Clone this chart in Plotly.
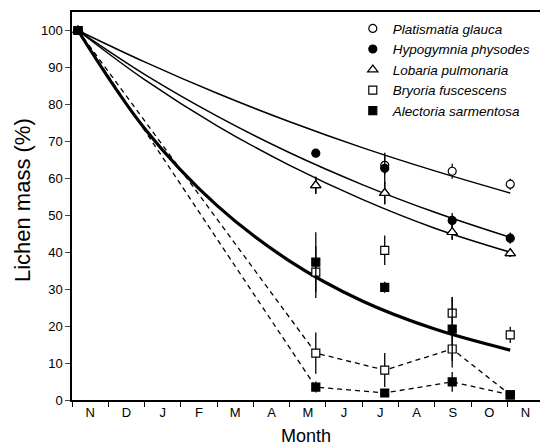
import plotly.graph_objects as go

# month axis: 0 = start of November, one unit per month
months = ["N", "D", "J", "F", "M", "A", "M", "J", "J", "A", "S", "O", "N"]

# sampling dates (fraction of months since 1 Nov)
x_start = 0.165
x_may = 6.72
x_jul = 8.62
x_sep = 10.48
x_oct = 12.08

# fitted decay curves
curve_x = [0.165, 2, 4, 6, 8, 10, 12.08]
fit_platismatia = [100, 91.5, 83.0, 75.3, 68.3, 62.0, 56.0]
fit_hypogymnia = [100, 88.1, 76.8, 66.9, 58.3, 50.8, 44.0]
fit_lobaria = [100, 86.7, 74.2, 63.5, 54.3, 46.5, 40.0]
fit_hair = [100, 73.5, 52.6, 37.6, 26.8, 19.2, 13.5]

# measured means and errors
plat_x = [x_start, x_jul, x_sep, x_oct]
plat_y = [100, 63.5, 61.9, 58.4]
plat_e = [0, 2.5, 2.0, 1.5]

hypo_x = [x_start, x_may, x_jul, x_sep, x_oct]
hypo_y = [100, 66.8, 62.7, 48.6, 43.8]
hypo_e = [0, 1.0, 4.2, 2.0, 1.5]

loba_x = [x_start, x_may, x_jul, x_sep, x_oct]
loba_y = [100, 58.1, 56.0, 45.4, 39.7]
loba_e = [0, 2.3, 3.0, 2.0, 1.0]

# hair lichens, first set (follows thick curve)
bryo1_x = [x_may, x_jul, x_sep, x_oct]
bryo1_y = [34.6, 40.5, 23.5, 17.6]
bryo1_e = [7.0, 4.0, 4.4, 2.2]

alec1_x = [x_may, x_jul, x_sep]
alec1_y = [37.3, 30.5, 19.2]
alec1_e = [8.1, 1.5, 8.6]

# hair lichens, second set (dashed)
bryo2_x = [x_start, x_may, x_jul, x_sep, x_oct]
bryo2_y = [100, 12.7, 8.1, 13.8, 1.4]
bryo2_e = [0, 5.6, 4.6, 5.0, 0.5]

alec2_x = [x_start, x_may, x_jul, x_sep, x_oct]
alec2_y = [100, 3.5, 1.9, 4.9, 1.4]
alec2_e = [0, 1.5, 0.5, 2.7, 0.5]

FONT = "Liberation Sans, Arial, sans-serif"

fig = go.Figure()

# fitted curves
for ys, w in [(fit_platismatia, 1.5), (fit_hypogymnia, 1.5), (fit_lobaria, 1.5), (fit_hair, 3.2)]:
    fig.add_trace(go.Scatter(x=curve_x, y=ys, mode="lines", line=dict(color="black", width=w, shape="spline"),
                             showlegend=False, hoverinfo="skip"))

# dashed connecting lines
for xs, ys in [(bryo2_x, bryo2_y), (alec2_x, alec2_y)]:
    fig.add_trace(go.Scatter(x=xs, y=ys, mode="lines", line=dict(color="black", width=1.3, dash="5px,4px"),
                             showlegend=False, hoverinfo="skip"))


def pts(xs, ys, es, symbol, fill, name, legend, size=8):
    fig.add_trace(go.Scatter(
        x=xs, y=ys, mode="markers", name=name, showlegend=legend,
        marker=dict(symbol=symbol, size=size, color=fill, line=dict(color="black", width=1.2)),
        error_y=dict(type="data", array=es, visible=True, color="black", thickness=1.3, width=0),
    ))


pts(plat_x, plat_y, plat_e, "circle", "white", "Platismatia glauca", True)
pts(loba_x, loba_y, loba_e, "triangle-up", "white", "Lobaria pulmonaria", False, 9)
pts(hypo_x, hypo_y, hypo_e, "circle", "black", "Hypogymnia physodes", True)
pts(loba_x, loba_y, loba_e, "triangle-up", "white", "Lobaria pulmonaria", True, 9)
pts(bryo1_x, bryo1_y, bryo1_e, "square", "white", "Bryoria fuscescens", True)
pts(bryo2_x, bryo2_y, bryo2_e, "square", "white", "Bryoria fuscescens", False)
pts(alec1_x, alec1_y, alec1_e, "square", "black", "Alectoria sarmentosa", True)
pts(alec2_x, alec2_y, alec2_e, "square", "black", "Alectoria sarmentosa", False)

# y title as annotation so it can sit a little above centre, like the original
fig.add_annotation(text="Lichen mass (%)", xref="paper", yref="paper", x=-0.107, y=0.515,
                   textangle=-90, showarrow=False, font=dict(size=22), xanchor="center", yanchor="middle")

fig.update_layout(
    width=540, height=446,
    margin=dict(l=72, r=0, t=12, b=46),
    paper_bgcolor="white", plot_bgcolor="white",
    font=dict(family=FONT, size=13, color="black"),
    showlegend=True,
    legend=dict(x=0.6, y=0.997, xanchor="left", yanchor="top", bgcolor="rgba(0,0,0,0)",
                font=dict(size=13.5, style="italic"), tracegroupgap=0, itemwidth=30),
    xaxis=dict(
        range=[0, 12.9], showgrid=False, zeroline=False, automargin=False,
        showline=True, linecolor="black", linewidth=1.5, mirror=True,
        tickvals=[i + 0.5 for i in range(len(months))], ticktext=months, ticks="",
        minor=dict(tickvals=list(range(len(months))), ticks="outside", ticklen=5, tickcolor="black", tickwidth=1.3),
        title=dict(text="Month", font=dict(size=18), standoff=12),
        tickfont=dict(size=13),
    ),
    yaxis=dict(
        range=[0, 105], showgrid=False, zeroline=False, automargin=False,
        showline=True, linecolor="black", linewidth=1.5,
        tickvals=list(range(0, 101, 10)), ticks="outside", ticklen=5, tickwidth=1.3,
        tickfont=dict(size=13),
    ),
)

fig.write_html("out.html", config={"displayModeBar": False},
               post_script="document.body.style.margin='0';")
